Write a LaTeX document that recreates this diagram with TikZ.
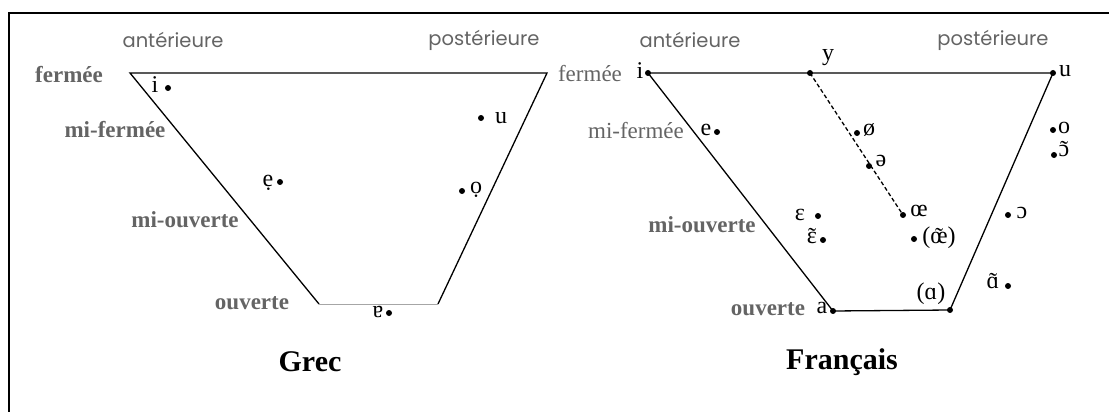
\documentclass[tikz,border=0pt]{standalone}
\usepackage{fontspec}
\setmainfont{Liberation Serif}
\newfontfamily\geo{Poppins}
\definecolor{labgray}{RGB}{100,100,100}
\newcommand\tld[1]{\ooalign{#1\cr\hidewidth\raisebox{-0.05em}{˜}\hidewidth\cr}}
\tikzset{
  lab/.style={text=labgray, font=\geo\fontsize{19.5}{22}\selectfont, inner sep=0},
  side/.style={text=labgray, font=\bfseries\fontsize{23}{25}\selectfont, inner sep=0},
  sider/.style={text=labgray, font=\fontsize{23}{25}\selectfont, inner sep=0},
  vow/.style={font=\fontsize{24}{26}\selectfont, inner sep=0},
  dotpt/.style={circle, fill=black, inner sep=0, minimum size=6pt},
  edge/.style={line width=1.3pt},
  ttl/.style={font=\bfseries\fontsize{30}{32}\selectfont, inner sep=0},
  frame/.style={line width=2pt}
}
\begin{document}
\begin{tikzpicture}[x=1pt,y=-1pt]
\useasboundingbox (0,0) rectangle (1109,412);
% frame
\coordinate (fTL) at (9,13);
\coordinate (fTR) at (1109,13);
\coordinate (fBL) at (9,412);
\draw[frame] (fBL) -- (fTL) -- (fTR);

% ---------- Greek ----------
\coordinate (gTL) at (130,73);
\coordinate (gTR) at (547,73);
\coordinate (gBL) at (319,304);
\coordinate (gBR) at (438,304);
\draw[edge] (gBL) -- (gTL) -- (gTR) -- (gBR);
\draw[line width=0.8pt, gray!70] (gBL) -- (gBR);

\node[lab] (gant) at (173,40) {antérieure};
\node[lab] (gpost) at (484,40) {postérieure};
\node[side] (gferm) at (69,75) {fermée};
\node[side] (gmiferm) at (115,130) {mi-fermée};
\node[side] (gmiouv) at (185,220) {mi-ouverte};
\node[side] (gouv) at (252,303) {ouverte};

\node[vow] (gi) at (155,85) {i};
\node[dotpt] (gid) at (168,88) {};
\node[vow] (gu) at (501,118) {u};
\node[dotpt] (gud) at (481,118) {};
\node[vow] (ge) at (268,183) {ẹ};
\node[dotpt] (ged) at (280,182) {};
\node[vow] (go) at (476,190) {ọ};
\node[dotpt] (god) at (462,191) {};
\node[vow] (ga) at (378,312) {ɐ};
\node[dotpt] (gad) at (389,313) {};

\node[ttl] (grec) at (310,362) {Grec};

% ---------- French ----------
\node[dotpt] (fi) at (648,73) {};
\node[dotpt] (fy) at (810,73) {};
\node[dotpt] (fu) at (1053,73) {};
\node[dotpt] (fa) at (833,311) {};
\node[dotpt] (falpha) at (950,310) {};
\node[dotpt] (foe) at (903,215) {};
\draw[edge] (fa.center) -- (fi.center) -- (fu.center) -- (falpha.center) -- (fa.center);
\draw[edge, dashed, dash pattern=on 4pt off 2.5pt] (fy.center) -- (foe.center);

\node[lab] (fant) at (690,40) {antérieure};
\node[lab] (fpost) at (993,40) {postérieure};
\node[sider] (fferm) at (590,74) {fermée};
\node[sider] (fmiferm) at (636,131) {mi-fermée};
\node[side] (fmiouv) at (702,225) {mi-ouverte};
\node[side] (fouv) at (768,309) {ouverte};

\node[vow] (li) at (640,71) {i};
\node[vow] (ly) at (828,58) {y};
\node[vow] (lu) at (1065,71) {u};
\node[vow] (le) at (706,130) {e};
\node[dotpt] (led) at (717,132) {};
\node[vow] (lo2) at (869,130) {ø};
\node[dotpt] (lo2d) at (857,133) {};
\node[vow] (lschwa) at (881,161) {ə};
\node[dotpt] (lschwad) at (869,166) {};
\node[vow] (loe) at (919,211) {œ};
\node[vow] (loen) at (939,238) {(\tld{œ})};
\node[dotpt] (loend) at (914,239) {};
\node[vow] (lopen) at (1022,213) {ɔ};
\node[dotpt] (lopend) at (1008,215) {};
\node[vow] (lan) at (993,283) {\tld{ɑ}};
\node[dotpt] (land) at (1008,286) {};
\node[vow] (lalpha) at (931,294) {(ɑ)};
\node[vow] (lo) at (1064,128) {o};
\node[dotpt] (lod) at (1053,130) {};
\node[vow] (lon) at (1064,151) {\tld{ɔ}};
\node[dotpt] (lond) at (1054,155) {};
\node[vow] (leps) at (800,215) {ɛ};
\node[dotpt] (lepsd) at (818,216) {};
\node[vow] (lepsn) at (812,238) {\tld{ɛ}};
\node[dotpt] (lepsnd) at (823,240) {};
\node[vow] (la) at (822,308) {a};

\node[ttl] (fr) at (842,362) {Français};
\end{tikzpicture}
\end{document}
